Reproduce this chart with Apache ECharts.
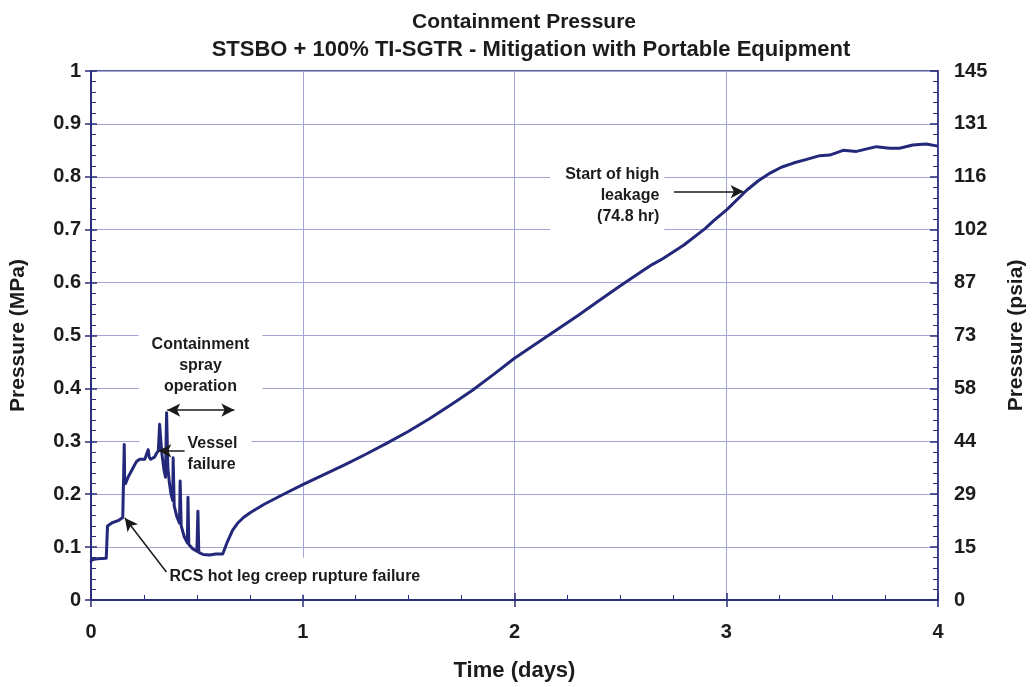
<!DOCTYPE html>
<html>
<head>
<meta charset="utf-8">
<script src="https://cdn.jsdelivr.net/npm/echarts@6/dist/echarts.min.js"></script>
<style>
html,body{margin:0;padding:0;background:#fff;overflow:hidden;width:1035px;height:687px;}
#chart{width:1035px;height:687px;display:block;}
</style>
</head>
<body>
<div id="chart"></div>
<script>
// ---- data (time in days, pressure in MPa) ----
const days = [0, 0.003, 0.03, 0.072, 0.078, 0.085, 0.10, 0.128, 0.150, 0.155, 0.157, 0.159, 0.163, 0.175, 0.199, 0.215, 0.230, 0.254, 0.262, 0.270, 0.275, 0.282, 0.300, 0.309, 0.318, 0.324, 0.330, 0.335, 0.345, 0.352, 0.357, 0.363, 0.370, 0.378, 0.386, 0.388, 0.393, 0.405, 0.418, 0.421, 0.426, 0.440, 0.455, 0.458, 0.462, 0.480, 0.500, 0.505, 0.509, 0.530, 0.560, 0.590, 0.622, 0.645, 0.669, 0.692, 0.720, 0.755, 0.818, 0.9, 1.0, 1.1, 1.2, 1.3, 1.4, 1.5, 1.6, 1.7, 1.8, 1.9, 2.0, 2.1, 2.2, 2.3, 2.4, 2.5, 2.6, 2.65, 2.7, 2.8, 2.9, 2.941, 3.003, 3.098, 3.15, 3.207, 3.26, 3.317, 3.38, 3.442, 3.489, 3.552, 3.615, 3.709, 3.771, 3.818, 3.881, 3.944, 4.0];
const pressure = [0.072, 0.076, 0.078, 0.079, 0.140, 0.143, 0.146, 0.150, 0.156, 0.159, 0.294, 0.225, 0.220, 0.232, 0.250, 0.262, 0.266, 0.266, 0.268, 0.284, 0.270, 0.266, 0.270, 0.277, 0.282, 0.332, 0.300, 0.276, 0.245, 0.232, 0.354, 0.250, 0.222, 0.200, 0.188, 0.269, 0.178, 0.158, 0.145, 0.225, 0.140, 0.120, 0.108, 0.194, 0.105, 0.097, 0.092, 0.168, 0.090, 0.086, 0.085, 0.087, 0.087, 0.111, 0.132, 0.145, 0.156, 0.166, 0.181, 0.198, 0.218, 0.237, 0.256, 0.276, 0.297, 0.319, 0.343, 0.369, 0.396, 0.426, 0.457, 0.484, 0.511, 0.538, 0.566, 0.594, 0.621, 0.634, 0.645, 0.671, 0.702, 0.717, 0.738, 0.775, 0.792, 0.807, 0.818, 0.826, 0.833, 0.840, 0.841, 0.850, 0.848, 0.857, 0.854, 0.854, 0.860, 0.862, 0.858];
const xTickLabels = ['0', '1', '2', '3', '4'];
const mpaTickLabels = ['0', '0.1', '0.2', '0.3', '0.4', '0.5', '0.6', '0.7', '0.8', '0.9', '1'];
const psiTickLabels = ['0', '15', '29', '44', '58', '73', '87', '102', '116', '131', '145'];

const titleLines = ['Containment Pressure', 'STSBO + 100% TI-SGTR - Mitigation with Portable Equipment'];

const NAVY = '#2a2d7c';
const GRID = '#a3a5d6';
const TXT = '#1c1c1c';
const FONT = "'Liberation Sans', Arial, sans-serif";

const chart = echarts.init(document.getElementById('chart'), null, {renderer: 'canvas', width: 1035, height: 687});

const seriesData = days.map((d, i) => [d, pressure[i]]);

const arrowStyle = {color: '#1a1a1a', width: 1.5, type: 'solid'};

const option = {
  animation: false,
  backgroundColor: '#fff',
  title: [
    {text: titleLines[0], left: 519, textAlign: 'center', top: 7, textStyle: {fontFamily: FONT, fontWeight: 'bold', fontSize: 21, color: TXT}},
    {text: titleLines[1], left: 526, textAlign: 'center', top: 34, textStyle: {fontFamily: FONT, fontWeight: 'bold', fontSize: 22, color: TXT}}
  ],
  grid: {left: 91, right: 93, top: 71, bottom: 86, show: true, borderColor: NAVY, borderWidth: 1.5, backgroundColor: 'transparent'},
  xAxis: [
    {
      type: 'value', min: 0, max: 4, interval: 1, position: 'bottom',
      name: 'Time (days)', nameLocation: 'middle', nameGap: 60,
      nameTextStyle: {fontFamily: FONT, fontWeight: 'bold', fontSize: 22, color: TXT},
      axisLine: {show: true, onZero: false, lineStyle: {color: NAVY, width: 2}},
      axisTick: {show: true, inside: true, length: 7, lineStyle: {color: NAVY, width: 1.5}},
      minorTick: {show: true, splitNumber: 4, length: 5, lineStyle: {color: NAVY, width: 1}},
      axisLabel: {margin: 22, fontFamily: FONT, fontWeight: 'bold', fontSize: 20, color: TXT,
        formatter: v => xTickLabels[Math.round(v)]},
      splitLine: {show: true, lineStyle: {color: GRID, width: 1}}
    },
    {
      type: 'value', min: 0, max: 4, interval: 1, position: 'bottom',
      axisLine: {show: false, onZero: false},
      axisTick: {show: true, inside: false, length: 7, lineStyle: {color: NAVY, width: 1.5}},
      axisLabel: {show: false}, splitLine: {show: false}
    }
  ],
  yAxis: [
    {
      type: 'value', min: 0, max: 1, interval: 0.1, position: 'left',
      name: 'Pressure (MPa)', nameLocation: 'middle', nameGap: 62, nameRotate: 90,
      nameTextStyle: {fontFamily: FONT, fontWeight: 'bold', fontSize: 21, color: TXT},
      axisLine: {show: true, onZero: false, lineStyle: {color: NAVY, width: 2}},
      axisTick: {show: true, inside: true, length: 6, lineStyle: {color: NAVY, width: 1.5}},
      minorTick: {show: true, splitNumber: 5, length: 5, lineStyle: {color: NAVY, width: 1}},
      axisLabel: {margin: 10, fontFamily: FONT, fontWeight: 'bold', fontSize: 20, color: TXT,
        formatter: v => mpaTickLabels[Math.round(v * 10)]},
      splitLine: {show: true, lineStyle: {color: GRID, width: 1}}
    },
    {
      type: 'value', min: 0, max: 1, interval: 0.1, position: 'left',
      axisLine: {show: false, onZero: false},
      axisTick: {show: true, inside: false, length: 6, lineStyle: {color: NAVY, width: 1.5}},
      axisLabel: {show: false}, splitLine: {show: false}
    },
    {
      type: 'value', min: 0, max: 1, interval: 0.1, position: 'right',
      name: 'Pressure (psia)', nameLocation: 'middle', nameGap: 68, nameRotate: 90,
      nameTextStyle: {fontFamily: FONT, fontWeight: 'bold', fontSize: 21, color: TXT},
      axisLine: {show: true, onZero: false, lineStyle: {color: NAVY, width: 1.5}},
      axisTick: {show: true, inside: true, length: 8, lineStyle: {color: NAVY, width: 1.5}},
      minorTick: {show: true, splitNumber: 5, length: 5, lineStyle: {color: NAVY, width: 1}},
      axisLabel: {margin: 16, fontFamily: FONT, fontWeight: 'bold', fontSize: 20, color: TXT,
        formatter: v => psiTickLabels[Math.round(v * 10)]},
      splitLine: {show: false}
    }
  ],
  series: [
    {
      type: 'line', name: 'Containment pressure', data: seriesData,
      xAxisIndex: 0, yAxisIndex: 0, z: 3,
      showSymbol: false, symbol: 'none',
      lineStyle: {color: '#24287a', width: 3, join: 'round'}
    },
    {
      type: 'line', data: [], xAxisIndex: 0, yAxisIndex: 0, z: 4,
      markLine: {
        silent: true, animation: false, symbol: ['arrow', 'arrow'], symbolSize: [10, 13],
        label: {show: false}, lineStyle: arrowStyle,
        data: [[{coord: [0.360, 0.359]}, {coord: [0.677, 0.359]}]]
      }
    },
    {
      type: 'line', data: [], xAxisIndex: 0, yAxisIndex: 0, z: 4,
      markLine: {
        silent: true, animation: false, symbol: ['none', 'arrow'], symbolSize: [10, 13],
        label: {show: false}, lineStyle: arrowStyle,
        data: [
          [{coord: [0.442, 0.282]}, {coord: [0.318, 0.282]}],
          [{coord: [0.356, 0.053]}, {coord: [0.160, 0.155]}],
          [{coord: [2.753, 0.772]}, {coord: [3.082, 0.772]}]
        ]
      }
    }
  ]
};
chart.setOption(option);

// ---- annotation texts, anchored in data coordinates ----
// pad = [top, right, bottom, left] of the white box behind the text
const notes = [
  {text: 'Containment\nspray\noperation', at: [0.517, 0.443], align: 'center', pad: [7, 13, 7, 13]},
  {text: 'Vessel\nfailure', at: [0.456, 0.275], align: 'left', pad: [6, 14, 6, 48]},
  {text: 'RCS hot leg creep rupture failure', at: [0.371, 0.045], align: 'left', pad: [8, 10, 8, 6]},
  {text: 'Start of high\nleakage\n(74.8 hr)', at: [2.684, 0.764], align: 'right', pad: [7, 5, 7, 15]}
];
const graphics = notes.map(n => {
  const p = chart.convertToPixel({xAxisIndex: 0, yAxisIndex: 0}, n.at);
  let x = p[0];
  if (n.align === 'left') x -= n.pad[3];
  else if (n.align === 'right') x += n.pad[1];
  else x -= (n.pad[3] - n.pad[1]) / 2;
  return {
    type: 'text', x: x, y: p[1], z: 1, silent: true,
    style: {
      text: n.text, align: n.align, verticalAlign: 'middle',
      font: "bold 16px 'Liberation Sans', Arial, sans-serif", fill: TXT,
      lineHeight: 21, backgroundColor: '#ffffff', padding: n.pad
    }
  };
});
chart.setOption({graphic: graphics});
</script>
</body>
</html>
